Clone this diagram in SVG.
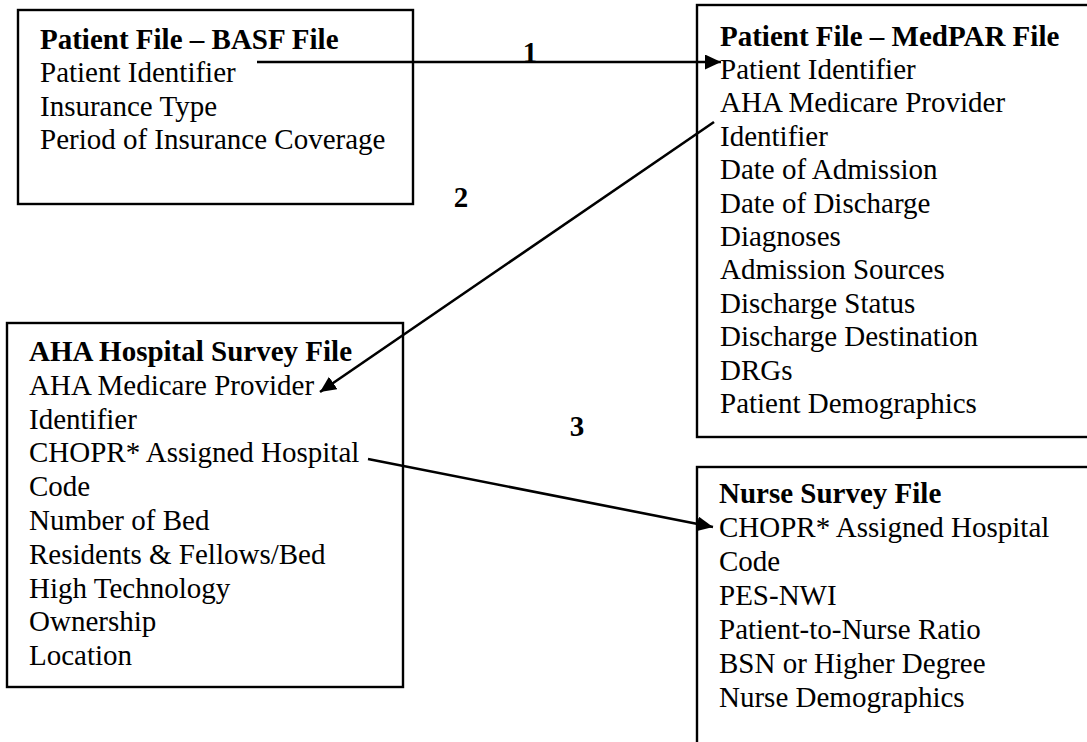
<svg xmlns="http://www.w3.org/2000/svg" width="1087" height="742" viewBox="0 0 1087 742">
<style>
  .box { fill: #fff; stroke: #000; stroke-width: 2.4; }
  .t { font-family: "Liberation Serif", "Times New Roman", serif; font-size: 29px; fill: #000; }
  .b { font-weight: bold; }
  .conn { stroke: #000; stroke-width: 2.6; fill: none; marker-end: url(#arr); }
</style>
<defs>
  <marker id="arr" markerUnits="userSpaceOnUse" markerWidth="17" markerHeight="16" refX="16" refY="7.5" orient="auto">
    <path d="M0,0 L16,7.5 L0,15 z" fill="#000"/>
  </marker>
</defs>
<rect width="1087" height="742" fill="#fff"/>

<g id="basf">
  <rect class="box" x="18" y="10" width="395" height="194"/>
  <text class="t b" x="40" y="49">Patient File – BASF File</text>
  <text class="t" x="40" y="82">Patient Identifier</text>
  <text class="t" x="40" y="115.5">Insurance Type</text>
  <text class="t" x="40" y="149">Period of Insurance Coverage</text>
</g>

<g id="medpar">
  <rect class="box" x="697" y="5" width="400" height="432"/>
  <text class="t b" x="720" y="46">Patient File – MedPAR File</text>
  <text class="t" x="720" y="79">Patient Identifier</text>
  <text class="t" x="720" y="112.4">AHA Medicare Provider</text>
  <text class="t" x="720" y="145.8">Identifier</text>
  <text class="t" x="720" y="179.2">Date of Admission</text>
  <text class="t" x="720" y="212.6">Date of Discharge</text>
  <text class="t" x="720" y="246">Diagnoses</text>
  <text class="t" x="720" y="279.4">Admission Sources</text>
  <text class="t" x="720" y="312.8">Discharge Status</text>
  <text class="t" x="720" y="346.2">Discharge Destination</text>
  <text class="t" x="720" y="379.6">DRGs</text>
  <text class="t" x="720" y="413">Patient Demographics</text>
</g>

<g id="aha">
  <rect class="box" x="7" y="323" width="396" height="364"/>
  <text class="t b" x="29" y="361">AHA Hospital Survey File</text>
  <text class="t" x="29" y="394.8">AHA Medicare Provider</text>
  <text class="t" x="29" y="428.6">Identifier</text>
  <text class="t" x="29" y="462.4">CHOPR* Assigned Hospital</text>
  <text class="t" x="29" y="496.2">Code</text>
  <text class="t" x="29" y="530">Number of Bed</text>
  <text class="t" x="29" y="563.8">Residents &amp; Fellows/Bed</text>
  <text class="t" x="29" y="597.6">High Technology</text>
  <text class="t" x="29" y="631.4">Ownership</text>
  <text class="t" x="29" y="665.2">Location</text>
</g>

<g id="nurse">
  <rect class="box" x="697" y="467" width="400" height="300"/>
  <text class="t b" x="719" y="503">Nurse Survey File</text>
  <text class="t" x="719" y="537">CHOPR* Assigned Hospital</text>
  <text class="t" x="719" y="571">Code</text>
  <text class="t" x="719" y="605">PES-NWI</text>
  <text class="t" x="719" y="639">Patient-to-Nurse Ratio</text>
  <text class="t" x="719" y="673">BSN or Higher Degree</text>
  <text class="t" x="719" y="707">Nurse Demographics</text>
</g>

<g id="connectors">
  <line class="conn" x1="257" y1="62" x2="721" y2="62"/>
  <line class="conn" x1="714" y1="122" x2="320" y2="392"/>
  <line class="conn" x1="368" y1="459" x2="713" y2="527"/>
  <text class="t b" x="530" y="62" text-anchor="middle">1</text>
  <text class="t b" x="461" y="207" text-anchor="middle">2</text>
  <text class="t b" x="577" y="436" text-anchor="middle">3</text>
</g>
</svg>
